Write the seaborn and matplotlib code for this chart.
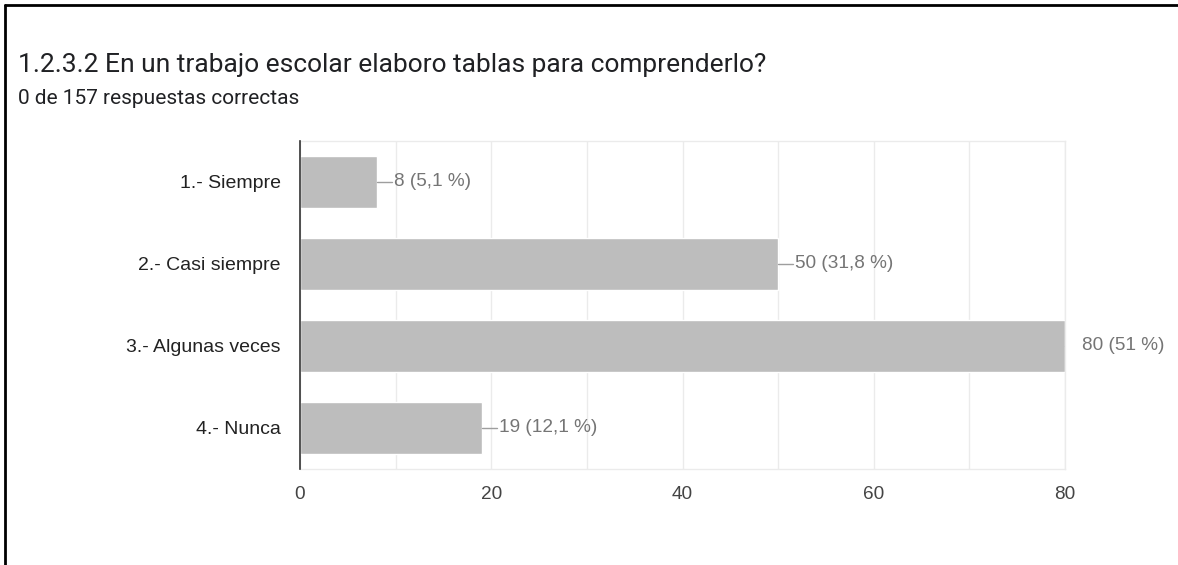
import matplotlib
matplotlib.use("Agg")
import matplotlib.pyplot as plt
import seaborn as sns
import pandas as pd
from matplotlib.lines import Line2D

categories = ["1.- Siempre", "2.- Casi siempre", "3.- Algunas veces", "4.- Nunca"]
counts = [8, 50, 80, 19]
pct_labels = ["5,1 %", "31,8 %", "51 %", "12,1 %"]
x_ticks = [0, 20, 40, 60, 80]
title = "1.2.3.2 En un trabajo escolar elaboro tablas para comprenderlo?"
subtitle = "0 de 157 respuestas correctas"

sns.set_theme(style="white")
plt.rcParams['font.family'] = ['Liberation Sans', 'DejaVu Sans']

df = pd.DataFrame({"cat": categories, "n": counts})

fig = plt.figure(figsize=(11.78, 5.65), dpi=100)
ax_w_px = 765
ax = fig.add_axes([300/1178, 1-469/565, ax_w_px/1178, 328/565])

sns.barplot(data=df, y="cat", x="n", orient="h", color="#bdbdbd",
            saturation=1, width=0.64, ax=ax, zorder=2)

xmax = 80
ax.set_xlim(0, xmax)
ax.set_ylim(3.5, -0.5)
ax.set_xticks(x_ticks)
ax.set_xticks(range(0, 81, 10), minor=True)
ax.grid(axis="x", which="both", color="#ebebeb", linewidth=1.0, zorder=0)
ax.set_axisbelow(True)
ax.set_xlabel("")
ax.set_ylabel("")
for s in ["top", "bottom", "right"]:
    ax.spines[s].set_color("#ebebeb")
    ax.spines[s].set_linewidth(1.0)
ax.spines["left"].set_color("#333333")
ax.spines["left"].set_linewidth(1.2)
ax.spines["left"].set_zorder(5)
ax.tick_params(axis="both", which="both", length=0)
ax.tick_params(axis="x", pad=12, labelsize=13.7, labelcolor="#444444")
ax.tick_params(axis="y", pad=14, labelsize=14, labelcolor="#222222")

leader = 15 * xmax / ax_w_px
for i, (v, p) in enumerate(zip(counts, pct_labels)):
    ax.plot([v, v + leader], [i, i], color="#9e9e9e", lw=1.0,
            clip_on=True, zorder=3)
    ax.annotate(f"{v} ({p})", xy=(v, i), xytext=(17, 0),
                textcoords="offset pixels", ha="left", va="center",
                fontsize=13.7, color="#757575", annotation_clip=False)

fig.text(18/1178, 1-65/565, title, fontsize=19, color="#202124",
         family=["Roboto", "DejaVu Sans"], va="center", ha="left")
fig.text(18/1178, 1-98/565, subtitle, fontsize=15, color="#202124",
         family=["Roboto", "DejaVu Sans"], va="center", ha="left")

fig.add_artist(Line2D([4.5/1178, 4.5/1178], [0, 1-4.5/565], color="black",
                      lw=2, transform=fig.transFigure))
fig.add_artist(Line2D([4.5/1178, 1], [1-4.5/565, 1-4.5/565], color="black",
                      lw=2, transform=fig.transFigure))

fig.savefig("out.png", dpi=100, facecolor="white")
